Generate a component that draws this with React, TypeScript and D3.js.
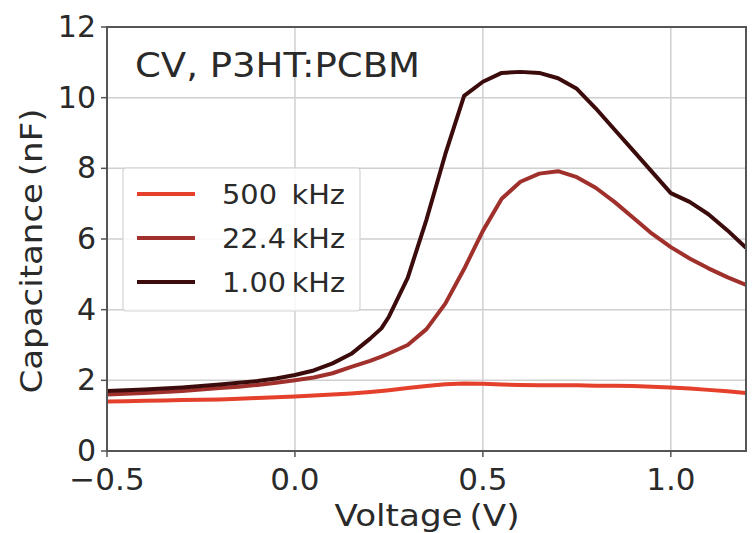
import React from "react";
import * as d3 from "d3";

const voltage = [-0.5, -0.45, -0.4, -0.35, -0.3, -0.25, -0.2, -0.15, -0.1, -0.05, 0.0, 0.05, 0.1, 0.15, 0.2, 0.23, 0.25, 0.3, 0.35, 0.4, 0.45, 0.5, 0.55, 0.6, 0.65, 0.7, 0.75, 0.8, 0.85, 0.9, 0.95, 1.0, 1.05, 1.1, 1.15, 1.2];
const c500k = [1.4, 1.41, 1.42, 1.43, 1.44, 1.45, 1.46, 1.48, 1.5, 1.52, 1.54, 1.57, 1.6, 1.63, 1.67, 1.7, 1.72, 1.78, 1.84, 1.89, 1.91, 1.9, 1.88, 1.87, 1.86, 1.86, 1.86, 1.85, 1.85, 1.84, 1.82, 1.8, 1.77, 1.73, 1.69, 1.64];
const c22k = [1.6, 1.62, 1.64, 1.67, 1.7, 1.74, 1.78, 1.82, 1.87, 1.93, 2.0, 2.08, 2.2, 2.38, 2.55, 2.67, 2.76, 3.0, 3.45, 4.17, 5.15, 6.23, 7.14, 7.62, 7.85, 7.92, 7.75, 7.45, 7.05, 6.6, 6.15, 5.77, 5.45, 5.17, 4.92, 4.7];
const c1k = [1.7, 1.72, 1.74, 1.77, 1.8, 1.84, 1.88, 1.93, 1.98, 2.05, 2.15, 2.28, 2.48, 2.75, 3.18, 3.47, 3.8, 4.9, 6.55, 8.4, 10.05, 10.45, 10.7, 10.73, 10.7, 10.55, 10.25, 9.7, 9.1, 8.5, 7.9, 7.3, 7.05, 6.7, 6.25, 5.75];

const seriesNames = ["500\u2002kHz", "22.4\u2009kHz", "1.00\u2009kHz"];
const seriesColors = ["#e4402c", "#a0302c", "#3c0c0c"];
const seriesValues = [c500k, c22k, c1k];

const xTicks = [-0.5, 0.0, 0.5, 1.0];
const yTicks = [0, 2, 4, 6, 8, 10, 12];

const W = 756, H = 533;
const L = 107, R = 746, T = 27, B = 451;

export default function App() {
  const x = d3.scaleLinear().domain([-0.5, 1.2]).range([L, R]);
  const y = d3.scaleLinear().domain([0, 12]).range([B, T]);
  const line = d3.line<number>().x((_, i) => x(voltage[i])).y((d) => y(d));
  const font = "DejaVu Sans, sans-serif";
  const txt = "#2a2a2a";
  const fmtX = (v: number) => (v < 0 ? "\u2212" : "") + Math.abs(v).toFixed(1);
  return (
    <svg width={W} height={H} style={{ position: "absolute", left: 0, top: 0, background: "#fff" }} fontFamily={font}>
      <defs>
        <clipPath id="plot">
          <rect x={L} y={T} width={R - L} height={B - T} />
        </clipPath>
      </defs>
      {/* grid */}
      {xTicks.map((t) => (
        <line key={"gx" + t} x1={x(t)} x2={x(t)} y1={T} y2={B} stroke="#cfcfcf" strokeWidth={1.5} />
      ))}
      {yTicks.map((t) => (
        <line key={"gy" + t} x1={L} x2={R} y1={y(t)} y2={y(t)} stroke="#cfcfcf" strokeWidth={1.5} />
      ))}
      {/* lines */}
      <g clipPath="url(#plot)">
        {seriesValues.map((vals, i) => (
          <path key={i} d={line(vals) || ""} fill="none" stroke={seriesColors[i]} strokeWidth={4} strokeLinejoin="round" />
        ))}
      </g>
      {/* legend */}
      <rect x={123} y={168} width={237} height={143} fill="#fff" fillOpacity={0.85} stroke="#d4d4d4" strokeWidth={1.2} rx={3} />
      {seriesNames.map((n, i) => (
        <g key={n}>
          <line x1={137} x2={195} y1={194 + i * 44} y2={194 + i * 44} stroke={seriesColors[i]} strokeWidth={4} />
          <text x={222} y={204 + i * 44} fontSize={26} fill={txt} textLength={123} lengthAdjust="spacingAndGlyphs">{n}</text>
        </g>
      ))}
      {/* frame */}
      <rect x={L} y={T} width={R - L} height={B - T} fill="none" stroke="#555" strokeWidth={2} />
      {/* ticks */}
      {xTicks.map((t) => (
        <g key={"tx" + t}>
          <line x1={x(t)} x2={x(t)} y1={B} y2={B + 6} stroke="#555" strokeWidth={1.5} />
          <text x={x(t)} y={490} fontSize={31} fill={txt} textAnchor="middle">{fmtX(t)}</text>
        </g>
      ))}
      {yTicks.map((t) => (
        <g key={"ty" + t}>
          <line x1={L - 6} x2={L} y1={y(t)} y2={y(t)} stroke="#555" strokeWidth={1.5} />
          <text x={96} y={y(t) + 10} fontSize={30} fill={txt} textAnchor="end">{t}</text>
        </g>
      ))}
      {/* title */}
      <text x={135} y={77} fontSize={33} fill={txt} textLength={285} lengthAdjust="spacingAndGlyphs">CV, P3HT:PCBM</text>
      {/* axis labels */}
      <text x={427} y={526} fontSize={31} fill={txt} textAnchor="middle" textLength={185} lengthAdjust="spacingAndGlyphs">Voltage{"\u2009"}(V)</text>
      <text transform="translate(42,251) rotate(-90)" fontSize={31} fill={txt} textAnchor="middle" textLength={285} lengthAdjust="spacingAndGlyphs">Capacitance{"\u2009"}(nF)</text>
    </svg>
  );
}
